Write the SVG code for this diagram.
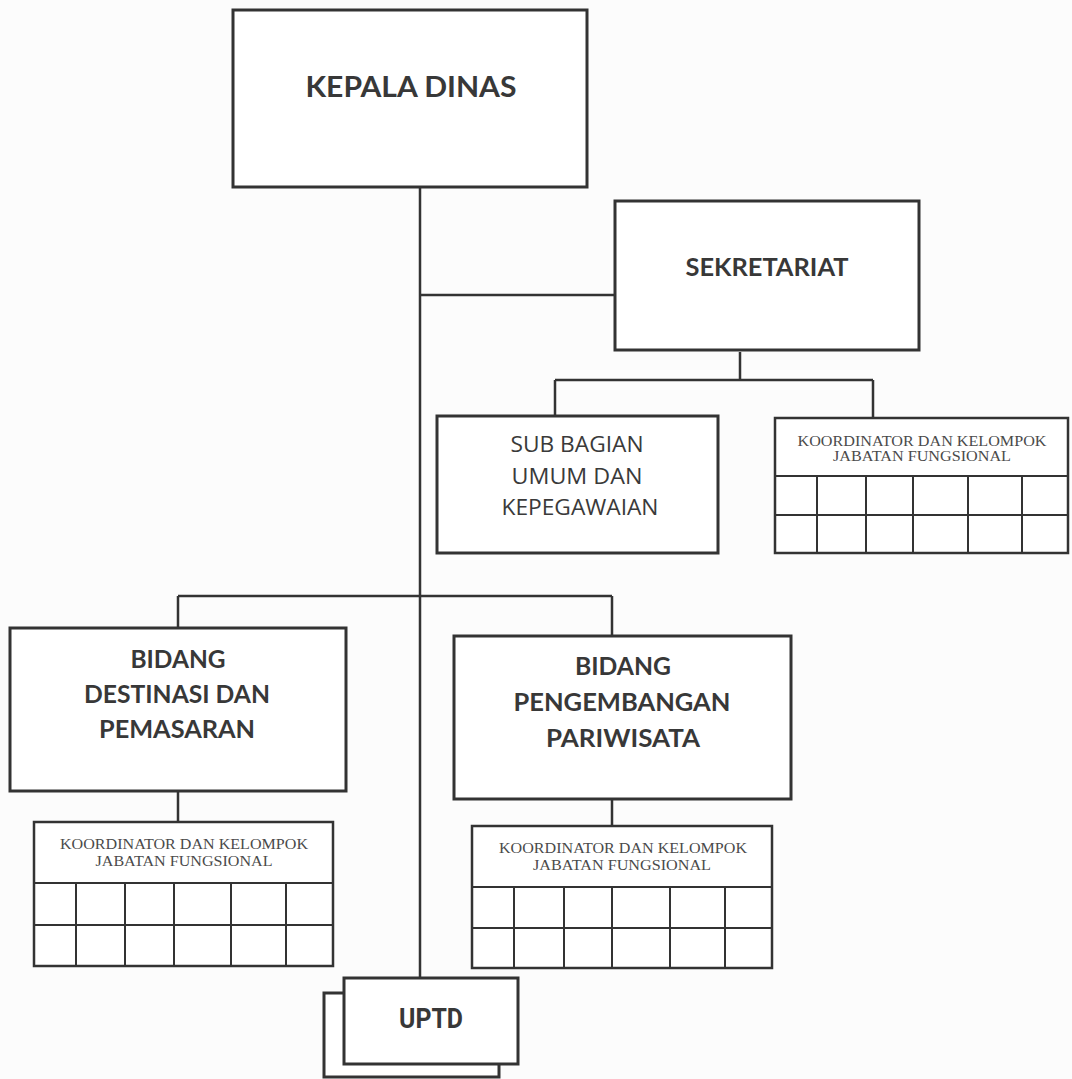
<svg xmlns="http://www.w3.org/2000/svg" width="1072" height="1079" viewBox="0 0 1072 1079">
<style>
.box{fill:#ffffff;stroke:#333;stroke-width:3}
.tbl{fill:#ffffff;stroke:#333;stroke-width:2.5}
.grid{fill:none;stroke:#333;stroke-width:2}
.conn{fill:none;stroke:#333;stroke-width:2.5}
.hb{font-family:Lato,"Open Sans","Liberation Sans",sans-serif;font-weight:bold;fill:#383838;text-anchor:middle}
.hr{font-family:"Open Sans","Liberation Sans",sans-serif;fill:#3a3a3a;text-anchor:middle}
.kf{font-family:"Liberation Serif","Times New Roman",serif;font-size:15.5px;fill:#4a4a4a;text-anchor:middle}
</style>
<rect x="0" y="0" width="1072" height="1079" fill="#fcfcfc"/>
<g id="connectors">
<path class="conn" d="M420 187 V978"/>
<path class="conn" d="M420 295 H615"/>
<path class="conn" d="M740 352 V380"/>
<path class="conn" d="M555 380 H873 M555 380 V416 M873 380 V418"/>
<path class="conn" d="M178 596 H612 M178 596 V628 M612 596 V636"/>
<path class="conn" d="M178 791 V822"/>
<path class="conn" d="M612 799 V826"/>
</g>
<g id="kepala-dinas">
<rect class="box" x="233" y="10" width="354" height="177"/>
<text class="hb" x="411" y="97" font-size="28" textLength="211" lengthAdjust="spacingAndGlyphs">KEPALA DINAS</text>
</g>
<g id="sekretariat">
<rect class="box" x="615" y="201" width="304" height="149"/>
<text class="hb" x="767" y="276" font-size="25" textLength="163" lengthAdjust="spacingAndGlyphs">SEKRETARIAT</text>
</g>
<g id="sub-bagian">
<rect class="box" x="437" y="416" width="281" height="137"/>
<text class="hr" x="577" y="452" font-size="21" textLength="133" lengthAdjust="spacingAndGlyphs">SUB BAGIAN</text>
<text class="hr" x="577" y="484" font-size="21" textLength="131" lengthAdjust="spacingAndGlyphs">UMUM DAN</text>
<text class="hr" x="580" y="515" font-size="21" textLength="157" lengthAdjust="spacingAndGlyphs">KEPEGAWAIAN</text>
</g>
<g id="koordinator-sekretariat">
<rect class="tbl" x="775" y="418" width="293" height="135"/>
<path class="grid" d="M775 476 H1068 M775 515 H1068 M817 476 V553 M866 476 V553 M913 476 V553 M968 476 V553 M1022 476 V553"/>
<text class="kf" x="922" y="446" textLength="249" lengthAdjust="spacingAndGlyphs">KOORDINATOR DAN KELOMPOK</text>
<text class="kf" x="922" y="461" textLength="178" lengthAdjust="spacingAndGlyphs">JABATAN FUNGSIONAL</text>
</g>
<g id="bidang-destinasi">
<rect class="box" x="10" y="628" width="336" height="163"/>
<text class="hb" x="178" y="668" font-size="25" textLength="95" lengthAdjust="spacingAndGlyphs">BIDANG</text>
<text class="hb" x="177" y="703" font-size="25" textLength="186" lengthAdjust="spacingAndGlyphs">DESTINASI DAN</text>
<text class="hb" x="177" y="738" font-size="25" textLength="156" lengthAdjust="spacingAndGlyphs">PEMASARAN</text>
</g>
<g id="bidang-pengembangan">
<rect class="box" x="454" y="636" width="337" height="163"/>
<text class="hb" x="623" y="675" font-size="25" textLength="96" lengthAdjust="spacingAndGlyphs">BIDANG</text>
<text class="hb" x="622" y="711" font-size="25" textLength="217" lengthAdjust="spacingAndGlyphs">PENGEMBANGAN</text>
<text class="hb" x="623" y="747" font-size="25" textLength="154" lengthAdjust="spacingAndGlyphs">PARIWISATA</text>
</g>
<g id="koordinator-destinasi">
<rect class="tbl" x="34" y="822" width="299" height="144"/>
<path class="grid" d="M34 883 H333 M34 925 H333 M76 883 V966 M125 883 V966 M174 883 V966 M231 883 V966 M286 883 V966"/>
<text class="kf" x="184" y="849" textLength="248" lengthAdjust="spacingAndGlyphs">KOORDINATOR DAN KELOMPOK</text>
<text class="kf" x="184" y="866" textLength="177" lengthAdjust="spacingAndGlyphs">JABATAN FUNGSIONAL</text>
</g>
<g id="koordinator-pengembangan">
<rect class="tbl" x="472" y="826" width="300" height="142"/>
<path class="grid" d="M472 887 H772 M472 928 H772 M514 887 V968 M564 887 V968 M612 887 V968 M670 887 V968 M725 887 V968"/>
<text class="kf" x="623" y="853" textLength="248" lengthAdjust="spacingAndGlyphs">KOORDINATOR DAN KELOMPOK</text>
<text class="kf" x="622" y="870" textLength="178" lengthAdjust="spacingAndGlyphs">JABATAN FUNGSIONAL</text>
</g>
<g id="uptd">
<rect class="box" x="324" y="993" width="175" height="84"/>
<rect class="box" x="344" y="978" width="174" height="86"/>
<text x="431" y="1028" font-family="Roboto,'Liberation Sans',sans-serif" font-weight="bold" font-size="27" fill="#383838" text-anchor="middle" textLength="64" lengthAdjust="spacingAndGlyphs">UPTD</text>
</g>
</svg>
